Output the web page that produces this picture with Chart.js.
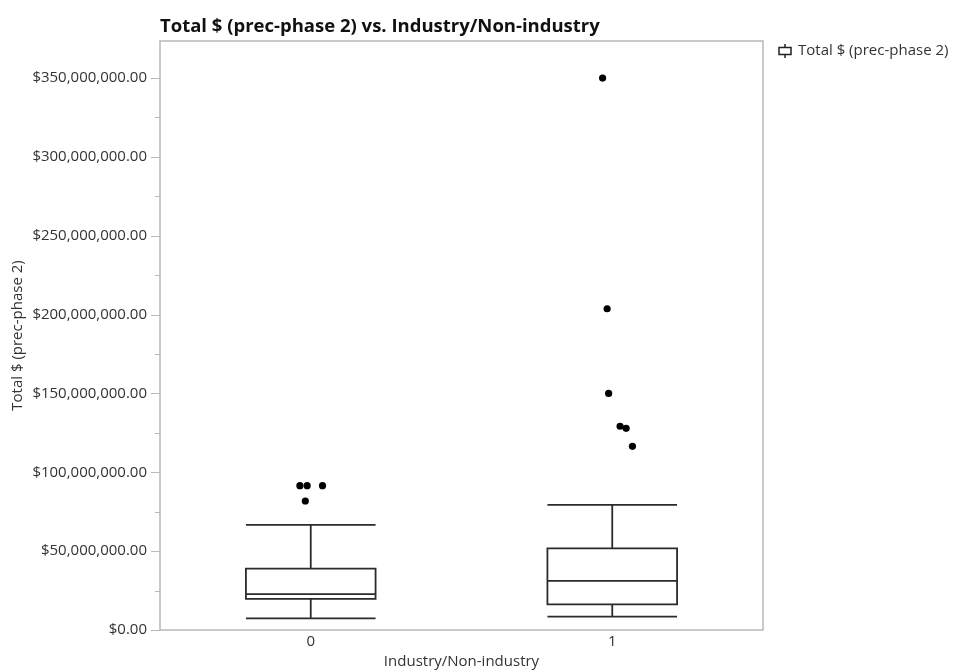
<!DOCTYPE html>
<html>
<head>
<meta charset="utf-8">
<script src="https://cdn.jsdelivr.net/npm/chart.js@4/dist/chart.umd.min.js"></script>
<style>
  html, body { margin: 0; padding: 0; background: #ffffff; }
  #wrap { width: 957px; height: 671px; position: relative; }
</style>
</head>
<body>
<div id="wrap"><canvas id="chart"></canvas></div>
<script>
// Industry/Non-industry groups (x axis categories)
const categories = [0, 1];

// Box-plot summary of Total $ (prec-phase 2) for each group
const whiskerLow  = [7400000, 8500000];
const quartile1   = [19700000, 16300000];
const medians     = [22700000, 31100000];
const quartile3   = [38900000, 51700000];
const whiskerHigh = [66700000, 79400000];

// Outliers: jittered group coordinate and value
const outlierX = [-0.036, -0.012, 0.039, -0.018, 0.968, 0.983, 0.988, 1.026, 1.046, 1.067];
const outlierY = [91500000, 91500000, 91500000, 81800000, 350000000, 203700000, 150000000, 129200000, 127900000, 116500000];

// Y axis ticks: labelled every 50M, minor marks in between
const yLabelledTicks = [0, 50000000, 100000000, 150000000, 200000000, 250000000, 300000000, 350000000];
const yMinorTicks = [25000000, 75000000, 125000000, 175000000, 225000000, 275000000, 325000000];
const yMax = 373500000;

const titleText = 'Total $ (prec-phase 2) vs. Industry/Non-industry';
const seriesName = 'Total $ (prec-phase 2)';
const xTitle = 'Industry/Non-industry';
const yTitle = 'Total $ (prec-phase 2)';

const FONT = "'Open Sans', 'Noto Sans', sans-serif";
const TEXT = '#333333';
const LINE = '#2b2b2b';
const FRAME = '#b8b8b8';
const BOX_HALF = 0.215;

const money = v => '$' + v.toLocaleString('en-US', { minimumFractionDigits: 2, maximumFractionDigits: 2 });

const boxPlugin = {
  id: 'boxes',
  beforeDatasetsDraw(chart) {
    const { ctx, scales: { x, y } } = chart;
    ctx.save();
    ctx.strokeStyle = LINE;
    ctx.lineWidth = 1.8;
    categories.forEach((c, i) => {
      const xl = x.getPixelForValue(c - BOX_HALF);
      const xr = x.getPixelForValue(c + BOX_HALF);
      const xc = x.getPixelForValue(c);
      const yLo = y.getPixelForValue(whiskerLow[i]);
      const yQ1 = y.getPixelForValue(quartile1[i]);
      const yMd = y.getPixelForValue(medians[i]);
      const yQ3 = y.getPixelForValue(quartile3[i]);
      const yHi = y.getPixelForValue(whiskerHigh[i]);
      ctx.beginPath();
      ctx.rect(xl, yQ3, xr - xl, yQ1 - yQ3);          // box
      ctx.moveTo(xl, yMd); ctx.lineTo(xr, yMd);        // median
      ctx.moveTo(xc, yQ3); ctx.lineTo(xc, yHi);        // upper whisker
      ctx.moveTo(xc, yQ1); ctx.lineTo(xc, yLo);        // lower whisker
      ctx.moveTo(xl, yHi); ctx.lineTo(xr, yHi);        // caps
      ctx.moveTo(xl, yLo); ctx.lineTo(xr, yLo);
      ctx.stroke();
    });
    ctx.restore();
  },
  afterDraw(chart) {
    const { ctx, scales: { y }, chartArea: a } = chart;
    ctx.save();
    // plot frame
    ctx.strokeStyle = FRAME;
    ctx.lineWidth = 1.5;
    ctx.strokeRect(a.left, a.top, a.right - a.left, a.bottom - a.top);
    // y tick marks
    ctx.beginPath();
    const mark = (v, len) => {
      const py = Math.round(y.getPixelForValue(v)) + 0.5;
      ctx.moveTo(a.left - len, py); ctx.lineTo(a.left, py);
    };
    yLabelledTicks.forEach(v => mark(v, 9));
    yMinorTicks.forEach(v => mark(v, 5));
    ctx.lineWidth = 1;
    ctx.stroke();
    // title
    ctx.fillStyle = '#111111';
    ctx.font = "bold 18.5px " + FONT;
    ctx.textBaseline = 'middle';
    ctx.textAlign = 'left';
    ctx.fillText(titleText, a.left, 27);
    // legend
    const lx = 779, ly = 51;
    ctx.strokeStyle = '#222222';
    ctx.lineWidth = 1.5;
    ctx.beginPath();
    ctx.rect(lx, ly - 3.5, 12, 7);
    ctx.moveTo(lx + 6, ly - 7); ctx.lineTo(lx + 6, ly - 3.5);
    ctx.moveTo(lx + 6, ly + 3.5); ctx.lineTo(lx + 6, ly + 7);
    ctx.stroke();
    ctx.fillStyle = TEXT;
    ctx.font = "15px " + FONT;
    ctx.fillText(seriesName, 798, ly);
    ctx.restore();
  }
};

new Chart(document.getElementById('chart'), {
  type: 'scatter',
  data: {
    datasets: [{
      label: seriesName,
      data: outlierX.map((v, i) => ({ x: v, y: outlierY[i] })),
      backgroundColor: '#000000',
      borderColor: '#000000',
      pointRadius: 3.6,
      pointHoverRadius: 3.6,
      borderWidth: 0
    }]
  },
  options: {
    responsive: true,
    maintainAspectRatio: false,
    animation: false,
    layout: { padding: { left: 0, top: 41, right: 194, bottom: 0 } },
    plugins: {
      legend: { display: false },
      title: { display: false },
      tooltip: { enabled: false }
    },
    scales: {
      x: {
        type: 'linear',
        min: -0.5,
        max: 1.5,
        afterBuildTicks: s => { s.ticks = categories.map(v => ({ value: v })); },
        afterFit: s => { s.height = 41; },
        grid: { display: false, drawTicks: false },
        border: { display: false },
        ticks: {
          padding: 3,
          color: TEXT,
          font: { family: FONT, size: 15 },
          callback: v => String(v)
        },
        title: {
          display: true,
          text: xTitle,
          color: TEXT,
          font: { family: FONT, size: 15 },
          padding: { top: 0, bottom: 0 }
        }
      },
      y: {
        min: 0,
        max: yMax,
        afterBuildTicks: s => { s.ticks = yLabelledTicks.map(v => ({ value: v })); },
        afterFit: s => { s.width = 160; },
        grid: { display: false, drawTicks: false },
        border: { display: false },
        ticks: {
          padding: 13,
          color: TEXT,
          font: { family: FONT, size: 15 },
          autoSkip: false,
          callback: v => money(v)
        },
        title: {
          display: true,
          text: yTitle,
          color: TEXT,
          font: { family: FONT, size: 15 },
          padding: { top: 9, bottom: 0 }
        }
      }
    }
  },
  plugins: [boxPlugin]
});
</script>
</body>
</html>
